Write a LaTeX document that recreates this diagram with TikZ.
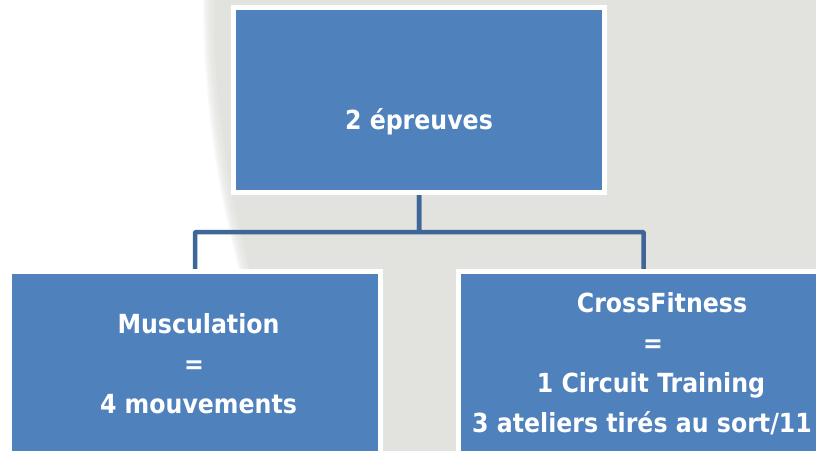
\documentclass[tikz,border=0pt]{standalone}
\usepackage{fontspec}
\setmainfont{DejaVu Sans Condensed}
\usetikzlibrary{positioning}
\definecolor{boxblue}{HTML}{4F81BD}
\definecolor{connblue}{HTML}{3E6696}
\definecolor{bggray}{HTML}{E2E2DE}
\pgfdeclarelayer{bg}
\pgfsetlayers{bg,main}
\tikzset{
  orgbox/.style={draw=white, line width=5pt, fill=boxblue, minimum width=371pt, inner sep=0pt, outer sep=0pt},
  txt/.style={text=white, font=\fontsize{26.3}{31}\selectfont\bfseries, anchor=base, inner sep=0pt},
  conn/.style={draw=connblue, line width=4.5pt, rounded corners=1pt}
}
\begin{document}
\begin{tikzpicture}[x=1pt,y=-1pt]
\useasboundingbox (0,0) rectangle (816,450);
\begin{pgfonlayer}{bg}
  \clip (0,0) rectangle (816,450);
  \fill[white] (0,0) rectangle (816,450);
  \foreach \k in {0,...,11} {
    \fill[bggray, opacity=0.14] (1230,0) circle (1016+\k);
  }
  \fill[bggray] (1230,0) circle (1016);
\end{pgfonlayer}
\node[orgbox, minimum height=185pt] (top) at (419,100) {};
\node[orgbox, minimum height=220pt] (left) at (195,381.5) {};
\node[orgbox, minimum height=220pt] (right) at (643.7,381.5) {};
\coordinate (j) at (419,232);
\begin{pgfonlayer}{bg}
  \draw[conn] (top.south) -- (j) -| (left.north);
  \draw[conn] (top.south) -- (j) -| (right.north);
\end{pgfonlayer}
\node[txt] (t1) at (419,129.5) {2 épreuves};
\node[txt] (m1) at (198.5,333) {Musculation};
\node[txt] (m2) at (194,373) {=};
\node[txt] (m3) at (198.5,413) {4 mouvements};
\node[txt] (c1) at (662,312) {CrossFitness};
\node[txt] (c2) at (653,352) {=};
\node[txt] (c3) at (651,392) {1 Circuit Training};
\node[txt] (c4) at (642,432) {3 ateliers tirés au sort/11};
\end{tikzpicture}
\end{document}
